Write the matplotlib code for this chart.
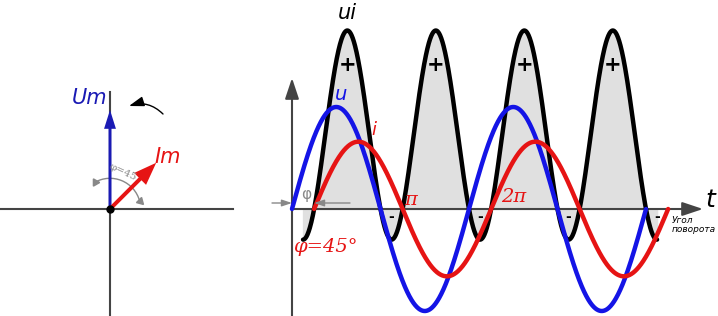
import numpy as np
import matplotlib
matplotlib.use("Agg")
import matplotlib.pyplot as plt
from matplotlib.patches import Arc, FancyArrowPatch

W, H = 718, 316

# phasor diagram
phasor_names = ["Um", "Im"]
phasor_mag = [1.0, 0.66]
phasor_ang = [90, 45]
phasor_colors = ["#1a1ab4", "#e61414"]

# waveforms
phi_deg = 45
u_amp = 1.0
i_amp = 0.66
ui_gain = 2.05
n_periods = 2
pi_labels = ["π", "2π"]

BLUE = "#1414e6"
RED = "#e61414"
AX = "#444444"
GREY = "#888888"

phi = np.radians(phi_deg)
end = 2 * np.pi * n_periods
t_u = np.linspace(0, end, 800)
t_i = np.linspace(phi, end + phi, 800)
t_ui = np.linspace(phi / 2, end + phi / 2, 1200)
u = u_amp * np.sin(t_u)
i = i_amp * np.sin(t_i - phi)
ui = ui_gain * np.sin(t_ui) * np.sin(t_ui - phi)

fig = plt.figure(figsize=(W / 100, H / 100), dpi=100)

# ---- left: phasors ----
S1, OX1, OY1 = 99.0, 110, 209
ax1 = fig.add_axes([0, 0, 270 / W, 1])
ax1.set_xlim(-OX1 / S1, (270 - OX1) / S1)
ax1.set_ylim(-(H - OY1) / S1, OY1 / S1)
ax1.axis("off")


def p1(x, y):
    return (x - OX1) / S1, (OY1 - y) / S1


ax1.plot([p1(0, 0)[0], p1(233, 0)[0]], [0, 0], color=AX, lw=1.5)
ax1.plot([0, 0], [p1(0, 316)[1], p1(0, 92)[1]], color=AX, lw=1.5)

heads = [(0.03, 0.12, 0.19), (0.04, 0.17, 0.23)]
for name, m, a, c, hd in zip(phasor_names, phasor_mag, phasor_ang, phasor_colors, heads):
    x, y = m * np.cos(np.radians(a)), m * np.sin(np.radians(a))
    ax1.arrow(0, 0, x, y, width=hd[0], head_width=hd[1], head_length=hd[2],
              length_includes_head=True, lw=0, color=c, zorder=3)
ax1.plot(0, 0, "o", color="black", ms=5, zorder=5)

ax1.text(*p1(90, 98), "Um", color=phasor_colors[0], fontsize=15, style="italic",
         ha="center", va="center")
ax1.text(*p1(168, 157), "Im", color=phasor_colors[1], fontsize=15, style="italic",
         ha="center", va="center")

rot = FancyArrowPatch(p1(163, 114), p1(129, 106), connectionstyle="arc3,rad=0.3",
                      arrowstyle="-|>,head_length=0.9,head_width=0.3",
                      mutation_scale=10, color="black", lw=1, shrinkA=0, shrinkB=0)
ax1.add_patch(rot)

r = 0.31
ax1.add_patch(Arc((0, 0), 2 * r, 2 * r, theta1=15, theta2=120, color=GREY, lw=1))
ax1.plot(r * np.cos(np.radians(120)), r * np.sin(np.radians(120)), marker=(3, 0, 30),
         color=GREY, ms=6)
ax1.plot(r * np.cos(np.radians(15)), r * np.sin(np.radians(15)), marker=(3, 0, 105),
         color=GREY, ms=6)
ax1.text(*p1(123, 172), "φ=45", color=GREY, fontsize=7.5, rotation=-25,
         ha="center", va="center", family="DejaVu Serif")

# ---- right: waveforms ----
X0, Y0, SX, SY = 292, 209, 177 / (2 * np.pi), 102.0
ax2 = fig.add_axes([270 / W, 0, 1 - 270 / W, 1])
ax2.set_xlim((270 - X0) / SX, (W - X0) / SX)
ax2.set_ylim(-(H - Y0) / SY, Y0 / SY)
ax2.axis("off")


def p2(x, y):
    return (x - X0) / SX, (Y0 - y) / SY


ax2.fill_between(t_ui, ui, 0, color="#e0e0e0", zorder=1)
ax2.annotate("", xy=p2(703, 209), xytext=(0, 0),
             arrowprops=dict(arrowstyle="-|>,head_length=0.9,head_width=0.3", color=AX,
                             lw=1.5, mutation_scale=14, shrinkA=0, shrinkB=0), zorder=2)
ax2.annotate("", xy=p2(292, 78), xytext=p2(292, 316),
             arrowprops=dict(arrowstyle="-|>,head_length=0.9,head_width=0.3", color=AX,
                             lw=1.5, mutation_scale=14, shrinkA=0, shrinkB=0), zorder=2)

ax2.plot(t_ui, ui, color="black", lw=3.2, zorder=3, solid_capstyle="round")
ax2.plot(t_u, u, color=BLUE, lw=3.2, zorder=4, solid_capstyle="round")
ax2.plot(t_i, i, color=RED, lw=3.2, zorder=5, solid_capstyle="round")

for k in range(2 * n_periods):
    tp = np.pi / 2 + phi / 2 + k * np.pi
    ax2.text(tp, p2(0, 65)[1], "+", fontsize=15, fontweight="bold", ha="center",
             va="center", zorder=6)
    tm = phi / 2 + (k + 1) * np.pi
    ax2.text(tm, p2(0, 217)[1], "-", fontsize=10, fontweight="bold", ha="center",
             va="center", zorder=6)

# phase-shift marker
gp = dict(arrowstyle="-|>,head_length=0.6,head_width=0.2", color=GREY, lw=1,
          mutation_scale=10, shrinkA=0, shrinkB=0)
ax2.annotate("", xy=p2(292, 203), xytext=p2(272, 203), arrowprops=gp, zorder=6)
ax2.annotate("", xy=p2(314, 203), xytext=p2(350, 203), arrowprops=gp, zorder=6)
ax2.text(*p2(306, 195), "φ", color=GREY, fontsize=11, ha="center", va="center", zorder=6)

ax2.text(*p2(347, 13), "ui", fontsize=15, style="italic", ha="center", va="center")
ax2.text(*p2(341, 95), "u", color=BLUE, fontsize=14, style="italic", ha="center",
         va="center")
ax2.text(*p2(374, 130), "i", color=RED, fontsize=13, style="italic", ha="center",
         va="center")
ax2.text(*p2(411, 200), pi_labels[0], color=RED, fontsize=14, style="italic",
         family="DejaVu Serif", ha="center", va="center", zorder=6)
ax2.text(*p2(514, 197), pi_labels[1], color=RED, fontsize=14, style="italic",
         family="DejaVu Serif", ha="center", va="center", zorder=6)
ax2.text(*p2(325, 247), "φ=45°", color=RED, fontsize=14, style="italic",
         family="DejaVu Serif", ha="center", va="center")
ax2.text(*p2(710, 200), "t", fontsize=18, style="italic", ha="center", va="center")
ax2.text(*p2(672, 225), "Угол\nповорота", fontsize=6.5, style="italic", ha="left",
         va="center", linespacing=0.95)

fig.savefig("out.png", dpi=100)
